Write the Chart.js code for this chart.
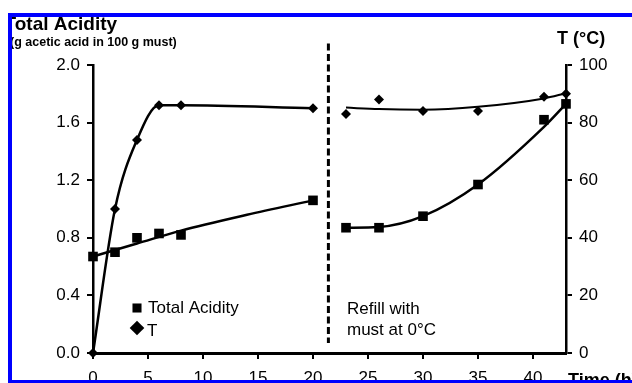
<!DOCTYPE html>
<html>
<head>
<meta charset="utf-8">
<script src="https://cdn.jsdelivr.net/npm/chart.js@4.4.1/dist/chart.umd.min.js"></script>
<style>
  html, body { margin: 0; padding: 0; background: #fff; }
  body { width: 632px; height: 383px; position: relative; overflow: hidden; }
  #chart { position: absolute; left: 0; top: 0; }
  .mask { position: absolute; background: #fff; }
  .frame {
    position: absolute; left: 8px; top: 13px; width: 640px; height: 363px;
    border-top: 4px solid #0000ff; border-left: 4px solid #0000ff; border-bottom: 3px solid #0000ff;
  }
</style>
</head>
<body>
<canvas id="chart" width="632" height="383"></canvas>
<div class="mask" style="left:0;top:0;width:8px;height:383px"></div>
<div class="mask" style="left:0;top:0;width:632px;height:13px"></div>
<div class="frame"></div>
<script>
// first batch (0-20 h)
const hoursLeft = [0, 2, 4, 6, 8, 20];
const acidityLeft = [0.67, 0.70, 0.80, 0.83, 0.82, 1.06];
const tempLeft = [0, 50, 74, 86, 86, 85];

// after refill (23-43 h)
const hoursRight = [23, 26, 30, 35, 41, 43];
const acidityRight = [0.87, 0.87, 0.95, 1.17, 1.62, 1.73];
const tempRight = [83, 88, 84, 84, 89, 90];

// trend lines
const acidTrendHoursLeft = [0, 4, 8, 14, 20];
const acidTrendLeft = [0.67, 0.76, 0.85, 0.96, 1.06];
const acidTrendHoursRight = [23, 26, 30, 35, 41, 43];
const acidTrendRight = [0.87, 0.875, 0.95, 1.17, 1.57, 1.73];
const tempTrendHours = [23, 26, 30, 35, 41, 43];
const tempTrendRight = [85.2, 84.7, 84.5, 85.5, 88.4, 90.2];

// refill marker
const refillHour = 21.4;
const refillSpan = [0.07, 2.15];

const xTicks = [0, 5, 10, 15, 20, 25, 30, 35, 40];
const acidTicks = [0, 0.4, 0.8, 1.2, 1.6, 2.0];
const tempTicks = [0, 20, 40, 60, 80, 100];

const FONT = "'Liberation Sans', Arial, sans-serif";
const INK = '#000';
Chart.defaults.font.family = FONT;
Chart.defaults.color = INK;

const pts = (xs, ys) => xs.map((x, i) => ({ x, y: ys[i] }));
const setTicks = (values) => (scale) => {
	scale.ticks = values.map((value) => ({ value }));
};

const axisGrid = {
	drawOnChartArea: false,
	drawTicks: true,
	tickLength: 6,
	color: INK,
	lineWidth: 2,
};

const markers = (label, data, axis, style, radius) => ({
	label,
	data,
	yAxisID: axis,
	showLine: false,
	pointStyle: style,
	pointRadius: radius,
	pointBorderWidth: 0,
	borderColor: INK,
	backgroundColor: INK,
});

const trend = (label, data, axis, width) => ({
	label,
	data,
	yAxisID: axis,
	pointRadius: 0,
	borderWidth: width,
	borderColor: INK,
	backgroundColor: INK,
	tension: 0.4,
	cubicInterpolationMode: 'monotone',
});

const annotations = {
	id: 'annotations',
	afterDraw(chart) {
		const { ctx } = chart;
		const sets = chart.data.datasets;
		ctx.save();
		ctx.fillStyle = INK;
		ctx.textAlign = 'left';
		ctx.textBaseline = 'alphabetic';

		ctx.font = `bold 19px ${FONT}`;
		ctx.fillText('Total Acidity', 4.5, 30);
		ctx.font = `bold 12.5px ${FONT}`;
		ctx.fillText('(g acetic acid in 100 g must)', 10, 46);

		ctx.font = `bold 18px ${FONT}`;
		ctx.fillText('T (°C)', 557, 44);
		ctx.fillText('Time (h)', 568, 386);

		ctx.font = `17px ${FONT}`;
		ctx.fillText('Refill with', 347, 313.5);
		ctx.fillText('must at 0°C', 347, 334.5);

		// legend
		Chart.helpers.drawPoint(ctx, { pointStyle: 'rect', rotation: 0, radius: 6.4, borderWidth: 0 }, 137, 308);
		Chart.helpers.drawPoint(ctx, { pointStyle: 'rectRot', rotation: 0, radius: 7.3, borderWidth: 0 }, 137, 328);
		ctx.fillStyle = INK;
		ctx.fillText(sets[0].label, 148, 313.3);
		ctx.fillText(sets[3].label, 147, 336);
		ctx.restore();
	},
};

new Chart(document.getElementById('chart'), {
	type: 'line',
	data: {
		datasets: [
			markers('Total Acidity', pts(hoursLeft, acidityLeft), 'y', 'rect', 6.8),
			trend('acid trend', pts(acidTrendHoursLeft, acidTrendLeft), 'y', 2.5),
			markers('acid refill', pts(hoursRight, acidityRight), 'y', 'rect', 6.8),
			{
				...trend('T', pts(hoursLeft, tempLeft), 'y2', 2.5),
				pointStyle: 'rectRot',
				pointRadius: 5,
				pointBorderWidth: 0,
			},
			markers('T refill', pts(hoursRight, tempRight), 'y2', 'rectRot', 5),
			trend('T trend', pts(tempTrendHours, tempTrendRight), 'y2', 2),
			trend('acid refill trend', pts(acidTrendHoursRight, acidTrendRight), 'y', 2.5),
			{
				label: 'refill',
				data: [ { x: refillHour, y: refillSpan[1] }, { x: refillHour, y: refillSpan[0] } ],
				yAxisID: 'y',
				pointRadius: 0,
				borderWidth: 3,
				borderColor: INK,
				borderDash: [ 7, 3.5 ],
			},
		],
	},
	options: {
		responsive: false,
		animation: false,
		events: [],
		datasets: {
			line: { clip: false },
		},
		layout: { padding: { top: 65, left: 0, right: 0, bottom: 0 } },
		plugins: {
			colors: { enabled: false },
			legend: { display: false },
			tooltip: { enabled: false },
		},
		scales: {
			x: {
				type: 'linear',
				min: 0,
				max: 43,
				afterBuildTicks: setTicks(xTicks),
				afterFit( scale ) {
					scale.height = 30;
				},
				grid: axisGrid,
				border: { display: true, color: INK, width: 3 },
				ticks: { font: { size: 17 }, padding: 9, maxRotation: 0, autoSkip: false },
			},
			y: {
				position: 'left',
				min: 0,
				max: 2,
				afterBuildTicks: setTicks(acidTicks),
				afterFit( scale ) {
					scale.width = 93;
				},
				grid: axisGrid,
				border: { display: true, color: INK, width: 2.5 },
				ticks: {
					font: { size: 17 },
					padding: 7,
					callback: ( val ) => val.toFixed( 1 ),
				},
			},
			y2: {
				position: 'right',
				min: 0,
				max: 100,
				afterBuildTicks: setTicks(tempTicks),
				afterFit( scale ) {
					scale.width = 66;
				},
				grid: axisGrid,
				border: { display: true, color: INK, width: 2.5 },
				ticks: { font: { size: 17 }, padding: 7 },
			},
		},
	},
	plugins: [ annotations ],
});
</script>
</body>
</html>
